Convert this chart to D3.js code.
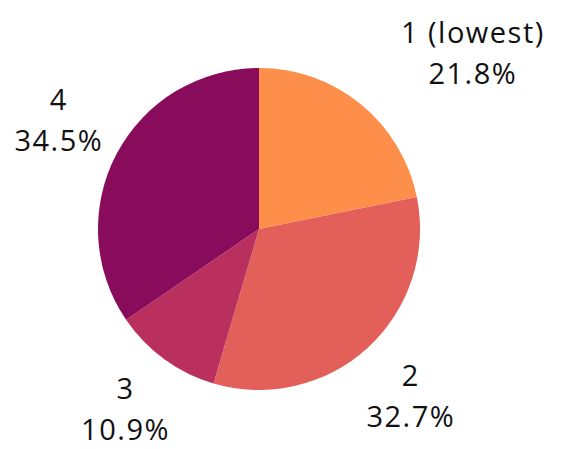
<!DOCTYPE html>
<html>
<head>
<meta charset="utf-8">
<script src="https://cdn.jsdelivr.net/npm/d3@7"></script>
<style>
  body { margin: 0; background: #fff; }
  svg { display: block; }
  text { font-family: "Open Sans", Lato, sans-serif; font-size: 29px; letter-spacing: 1.5px; fill: #111; }
</style>
</head>
<body>
<svg id="chart" width="561" height="449"></svg>
<script>
'use strict';

const categories = ["1 (lowest)", "2", "3", "4"];
const shares = [21.8, 32.7, 10.9, 34.5];
const colors = ["#fd8f4b", "#e35f5a", "#b9305e", "#880b5c"];

function main() {
    const svg = d3.select("#chart");
    const cx = 259, cy = 229, r = 161;
    const labelR = 232;
    // nudges so labels don't crowd the pie
    const nudge = [[67, 8], [-5, 0], [3, -4], [5, 3]];

    const pie = d3.pie().sort(null).value(d => d.v);
    const data = pie(categories.map((c, i) => ({c, v: shares[i], col: colors[i]})));
    const arc = d3.arc().innerRadius(0).outerRadius(r);
    const lab = d3.arc().innerRadius(labelR).outerRadius(labelR);

    const g = svg.append("g").attr("transform", `translate(${cx},${cy})`);
    g.selectAll("path").data(data).enter().append("path")
        .attr("d", arc)
        .attr("fill", d => d.data.col);

    const t = g.selectAll(".label").data(data).enter().append("text")
        .attr("class", "label")
        .attr("text-anchor", "middle")
        .attr("transform", (d, i) => {
            const [x, y] = lab.centroid(d);
            return `translate(${x + nudge[i][0]},${y + nudge[i][1]})`;
        });
    t.append("tspan").attr("x", 0).attr("y", -14).text(d => d.data.c);
    t.append("tspan").attr("x", 0).attr("y", 27).text(d => d.data.v.toFixed(1) + "%");
}
main();
</script>
</body>
</html>
